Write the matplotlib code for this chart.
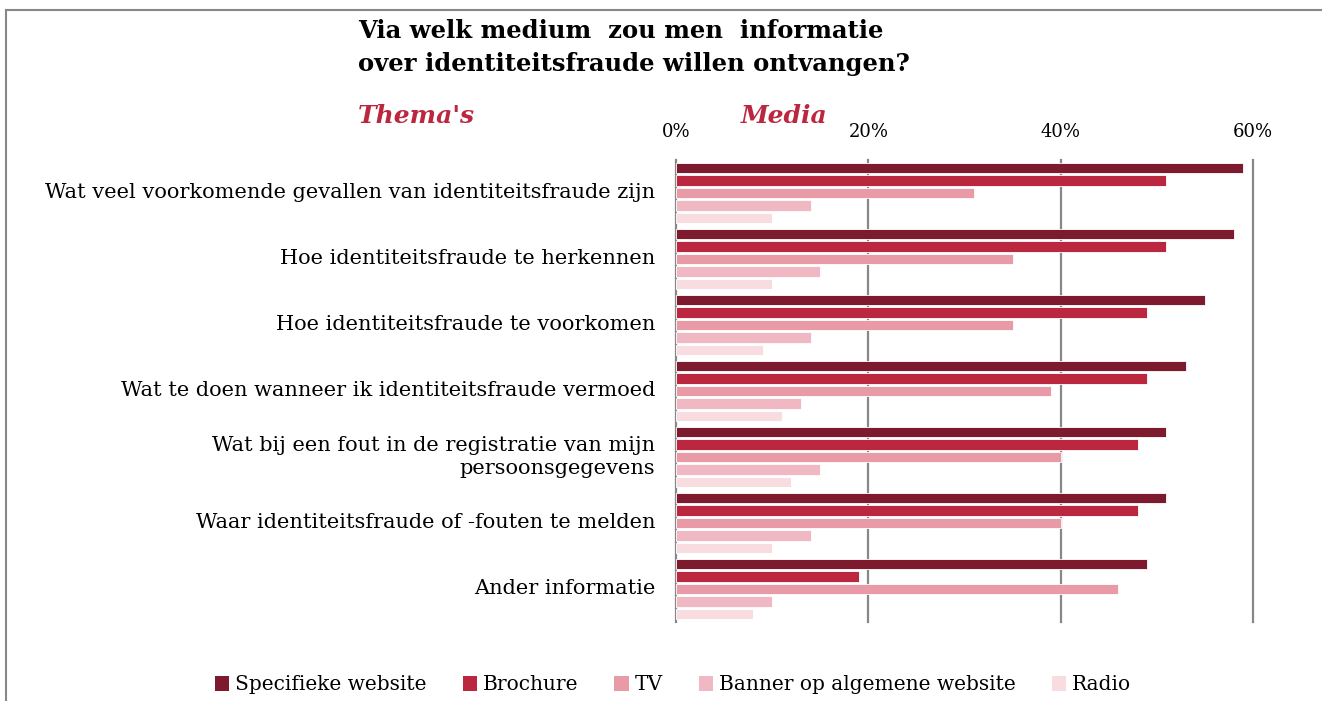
import numpy as np
import matplotlib.pyplot as plt
from matplotlib.patches import Patch

# data
themes = [
    "Wat veel voorkomende gevallen van identiteitsfraude zijn",
    "Hoe identiteitsfraude te herkennen",
    "Hoe identiteitsfraude te voorkomen",
    "Wat te doen wanneer ik identiteitsfraude vermoed",
    "Wat bij een fout in de registratie van mijn\npersoonsgegevens",
    "Waar identiteitsfraude of -fouten te melden",
    "Ander informatie",
]
media = ["Specifieke website", "Brochure", "TV", "Banner op algemene website", "Radio"]
specifieke = [59, 58, 55, 53, 51, 51, 49]
brochure = [51, 51, 49, 49, 48, 48, 19]
tv = [31, 35, 35, 39, 40, 40, 46]
banner = [14, 15, 14, 13, 15, 14, 10]
radio = [10, 10, 9, 11, 12, 10, 8]
xticks = [0, 20, 40, 60]

series = [specifieke, brochure, tv, banner, radio]
colors = ["#7d1a2e", "#bc2740", "#e89ba6", "#f0b8c2", "#f8dce0"]

plt.rcParams['font.family'] = ['DejaVu Serif']

fig = plt.figure(figsize=(13.22, 7.01), dpi=100)
ax = fig.add_axes([676/1322, 1-622/701, (1253-676)/1322, (622-160)/701])

slot = 0.19
bar_h = 0.155
centers = np.arange(len(themes))
for j, (vals, c) in enumerate(zip(series, colors)):
    y = centers + (j - 2) * slot
    ax.barh(y, vals, height=bar_h, color=c, edgecolor='white', linewidth=0.6, zorder=3)

ax.set_xlim(0, 60)
ax.set_ylim(len(themes) - 0.5, -0.5)
ax.set_xticks(xticks)
ax.set_xticklabels([f"{t}%" for t in xticks], fontsize=13)
ax.xaxis.tick_top()
ax.tick_params(axis='x', length=0, pad=14)
for t in xticks:
    ax.axvline(t, color='#888888', linewidth=1.6, zorder=0, clip_on=False)
ax.set_yticks([])
for s in ax.spines.values():
    s.set_visible(False)

for i, t in enumerate(themes):
    ax.text(-0.036, i, t, transform=ax.get_yaxis_transform(), ha='right', va='center',
            fontsize=15, linespacing=1.25)

fig.text(358/1322, 1-19/701, "Via welk medium  zou men  informatie\nover identiteitsfraude willen ontvangen?",
         fontsize=17.5, fontweight='bold', va='top', ha='left', linespacing=1.5)
fig.text(358/1322, 1-116/701, "Thema's", fontsize=18, fontweight='bold', style='italic',
         color='#bc2740', va='center')
fig.text(741/1322, 1-116/701, "Media", fontsize=18, fontweight='bold', style='italic',
         color='#bc2740', va='center')

# frame lines
fig.add_artist(plt.Line2D([6/1322, 1], [1-10/701, 1-10/701], color='#888888', lw=1.5))
fig.add_artist(plt.Line2D([6/1322, 6/1322], [0, 1-10/701], color='#888888', lw=1.5))

handles = [Patch(facecolor=c, label=m) for c, m in zip(colors, media)]
fig.legend(handles=handles, loc='center', bbox_to_anchor=(673/1322, 1-685/701), ncol=5,
           frameon=False, fontsize=14.5, handlelength=0.7, handleheight=0.7,
           handletextpad=0.3, columnspacing=1.8)

fig.savefig("out.png", dpi=100)
